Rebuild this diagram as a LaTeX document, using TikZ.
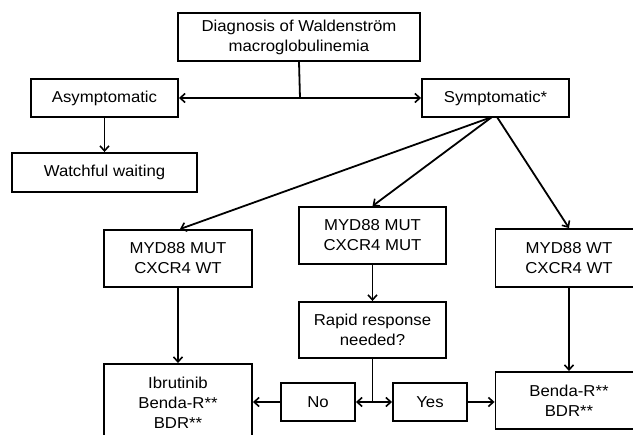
\documentclass[tikz,border=0pt]{standalone}
\usepackage{fontspec}
\setmainfont{Liberation Sans}[FakeStretch=1.06]
\usetikzlibrary{arrows.meta}
\begin{document}
\begin{tikzpicture}[x=1pt,y=-1pt,
  box/.style={draw,line width=1.9pt,align=center,inner sep=0pt,
    font=\fontsize{15.8}{20}\selectfont},
  conn/.style={line width=1.8pt},
  arr/.style={conn,-{Straight Barb[length=5pt,width=9pt,line width=1.6pt]}},
  biarr/.style={conn,{Straight Barb[length=5pt,width=9pt,line width=1.6pt]}-{Straight Barb[length=5pt,width=9pt,line width=1.6pt]}}]
\clip (0,0) rectangle (633,435);
\fill[white] (0,0) rectangle (633,435);
\node[box,minimum width=242pt,minimum height=48pt] (diag) at (299,37) {Diagnosis of Waldenström\\macroglobulinemia};
\node[box,minimum width=147pt,minimum height=38pt] (asym) at (104.5,98) {Asymptomatic};
\node[box,minimum width=147pt,minimum height=38pt] (sym) at (495.5,98) {Symptomatic*};
\node[box,minimum width=185pt,minimum height=39pt] (watch) at (104.5,172.5) {Watchful waiting};
\node[box,minimum width=148pt,minimum height=57pt] (mw) at (178,258.5) {MYD88 MUT\\CXCR4 WT};
\node[box,minimum width=147pt,minimum height=57pt] (mm) at (372.5,235.5) {MYD88 MUT\\CXCR4 MUT};
\node[box,minimum width=147pt,minimum height=58pt] (ww) at (569,258) {MYD88 WT\\CXCR4 WT};
\node[box,minimum width=147pt,minimum height=56pt] (rapid) at (372.5,330) {Rapid response\\needed?};
\node[box,minimum width=148pt,minimum height=78pt] (ibr) at (178,403) {Ibrutinib\\Benda-R**\\BDR**};
\node[box,minimum width=74pt,minimum height=38pt] (no) at (318,402) {No};
\node[box,minimum width=74pt,minimum height=38pt] (yes) at (430,402) {Yes};
\node[box,minimum width=147pt,minimum height=57pt] (benda) at (569,400.5) {Benda-R**\\BDR**};
\coordinate (j1) at (300,98);
\coordinate (j2) at (372.5,402);
\coordinate (s1) at (492,117);
\coordinate (s2) at (497,117);
\draw[conn] (diag.south) -- (j1);
\draw[arr] (j1) -- (asym.east);
\draw[arr] (j1) -- (sym.west);
\draw[arr] (asym.south) -- (watch.north);
\draw[arr] (s1) -- ([xshift=2pt]mw.north);
\draw[arr] (s1) -- (mm.north);
\draw[arr] (s2) -- (ww.north);
\draw[arr] (mw.south) -- (mw.south |- ibr.north);
\draw[arr] (mm.south) -- (rapid.north);
\draw[arr] (ww.south) -- (benda.north);
\draw[conn] (rapid.south) -- (j2);
\draw[arr] (j2) -- (no.east);
\draw[arr] (j2) -- (yes.west);
\draw[arr] (no.west) -- (no.west -| ibr.east);
\draw[arr] (yes.east) -- (yes.east -| benda.west);
\end{tikzpicture}
\end{document}
